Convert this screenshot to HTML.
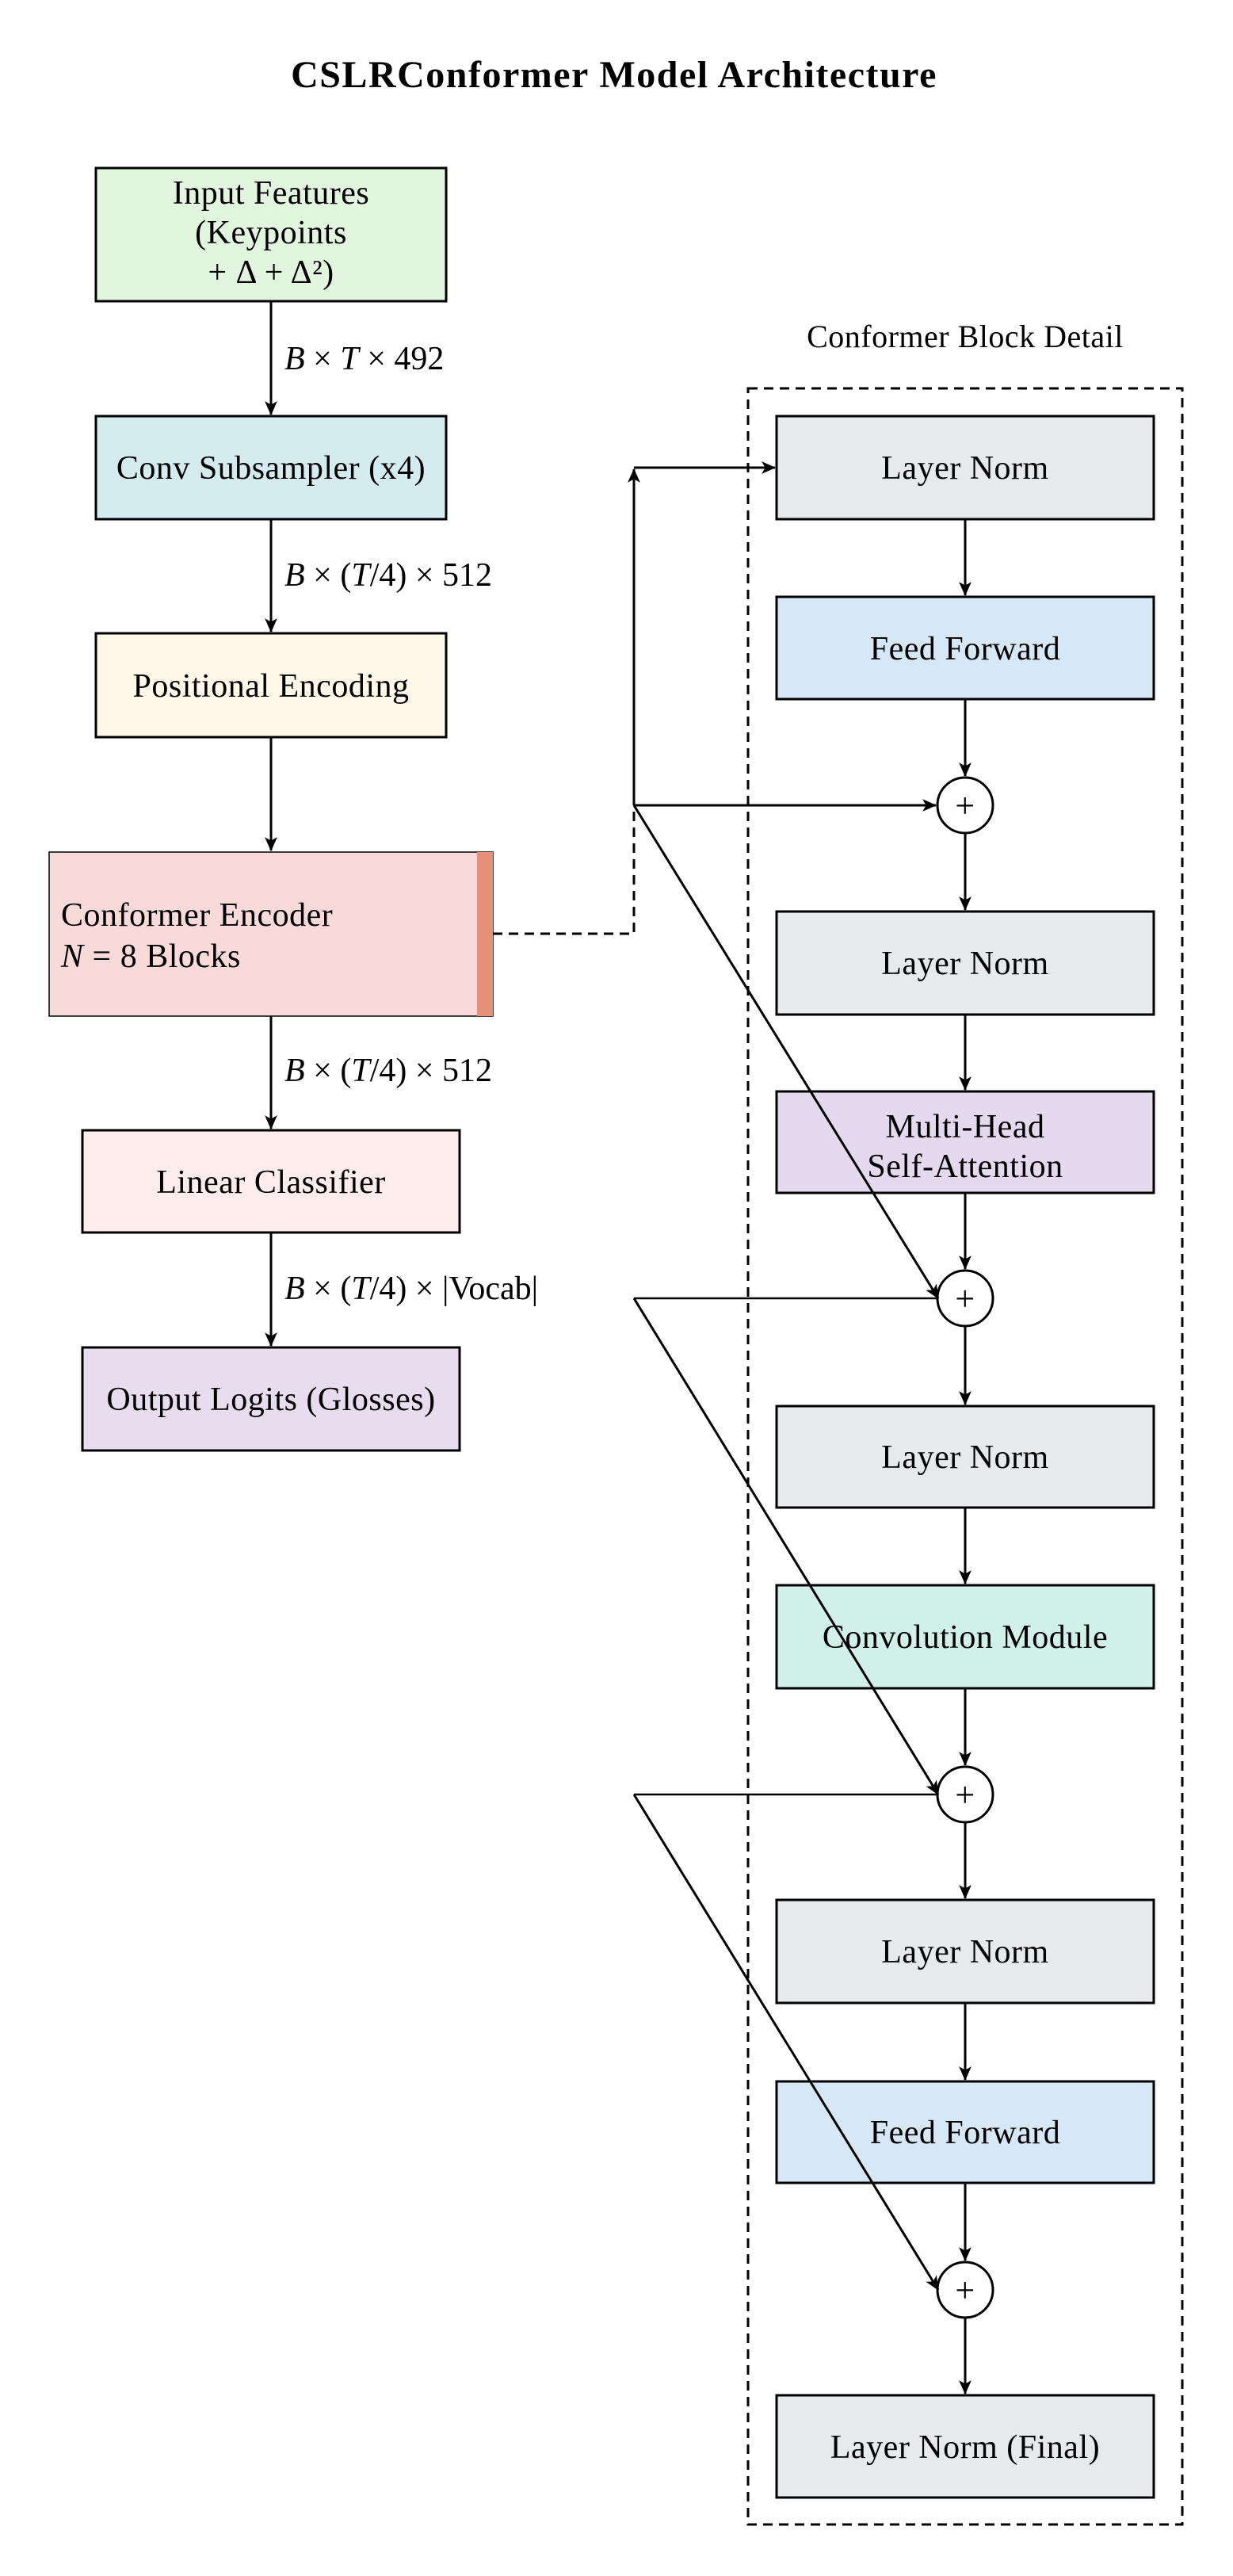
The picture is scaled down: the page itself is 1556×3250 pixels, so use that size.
<!DOCTYPE html>
<html><head><meta charset="utf-8"><style>
html,body{margin:0;padding:0;background:#fff;}
svg{display:block;}
text{font-family:"Liberation Serif",serif;fill:#000;}
</style></head><body>
<svg width="1556" height="3250" viewBox="0 0 1556 3250" xmlns="http://www.w3.org/2000/svg">
<defs>
<marker id="a" viewBox="0 0 16 14" refX="15" refY="7" markerWidth="18" markerHeight="16" markerUnits="userSpaceOnUse" orient="auto">
<path d="M0,0 L16,7 L0,14 L4,7 Z" fill="#000"/>
</marker>
</defs>
<text x="775" y="110" font-size="48" font-weight="bold" text-anchor="middle" letter-spacing="1.5">CSLRConformer Model Architecture</text>

<g stroke="#000" stroke-width="3">
<rect x="121" y="212" width="442" height="168" fill="#e2f5de"/>
<rect x="121" y="525" width="442" height="130" fill="#d4ecf0"/>
<rect x="121" y="799" width="442" height="131" fill="#fdf8e8"/>
<rect x="62" y="1075" width="560" height="207" fill="#f8dad8" stroke-width="1.5"/>
<rect x="602" y="1075" width="20" height="207" fill="#e59078" stroke="none"/>
<rect x="104" y="1426" width="476" height="129" fill="#fdecec"/>
<rect x="104" y="1700" width="476" height="130" fill="#e8dcef"/>
</g>
<g font-size="42" letter-spacing="0.5">
<text text-anchor="middle"><tspan x="342" y="257">Input Features</tspan><tspan x="342" y="307">(Keypoints</tspan><tspan x="342" y="357">+ Δ + Δ²)</tspan></text>
<text x="342" y="604" text-anchor="middle">Conv Subsampler (x4)</text>
<text x="342" y="879" text-anchor="middle">Positional Encoding</text>
<text><tspan x="77" y="1168">Conformer Encoder</tspan><tspan x="77" y="1220"><tspan font-style="italic">N</tspan> = 8 Blocks</tspan></text>
<text x="342" y="1505" text-anchor="middle">Linear Classifier</text>
<text x="342" y="1779" text-anchor="middle">Output Logits (Glosses)</text>
</g>

<g stroke="#000" stroke-width="3" fill="none" marker-end="url(#a)">
<line x1="342" y1="380" x2="342" y2="523"/>
<line x1="342" y1="655" x2="342" y2="797"/>
<line x1="342" y1="930" x2="342" y2="1073"/>
<line x1="342" y1="1282" x2="342" y2="1424"/>
<line x1="342" y1="1555" x2="342" y2="1698"/>
</g>
<g font-size="42">
<text><tspan x="359" y="466"><tspan font-style="italic">B</tspan> × <tspan font-style="italic">T</tspan> × 492</tspan></text>
<text><tspan x="359" y="739"><tspan font-style="italic">B</tspan> × (<tspan font-style="italic">T</tspan>/4) × 512</tspan></text>
<text><tspan x="359" y="1364"><tspan font-style="italic">B</tspan> × (<tspan font-style="italic">T</tspan>/4) × 512</tspan></text>
<text><tspan x="359" y="1639"><tspan font-style="italic">B</tspan> × (<tspan font-style="italic">T</tspan>/4) × |Vocab|</tspan></text>
</g>

<!-- right -->
<text x="1218" y="438" font-size="40" text-anchor="middle" letter-spacing="0.5">Conformer Block Detail</text>
<rect x="944" y="490" width="548" height="2695" fill="none" stroke="#000" stroke-width="3" stroke-dasharray="12,8"/>
<g stroke="#000" stroke-width="3">
<rect x="980" y="525" width="476" height="130" fill="#e8e9eb"/>
<rect x="980" y="753" width="476" height="129" fill="#d6e8f6"/>
<rect x="980" y="1150" width="476" height="130" fill="#e8e9eb"/>
<rect x="980" y="1377" width="476" height="128" fill="#e5d9f0"/>
<rect x="980" y="1774" width="476" height="128" fill="#e8e9eb"/>
<rect x="980" y="2000" width="476" height="130" fill="#d0f0e8"/>
<rect x="980" y="2397" width="476" height="130" fill="#e8e9eb"/>
<rect x="980" y="2626" width="476" height="128" fill="#d6e8f6"/>
<rect x="980" y="3022" width="476" height="129" fill="#e8e9eb"/>
<circle cx="1218" cy="1016" r="35" fill="#fff"/>
<circle cx="1218" cy="1638" r="35" fill="#fff"/>
<circle cx="1218" cy="2264" r="35" fill="#fff"/>
<circle cx="1218" cy="2889" r="35" fill="#fff"/>
</g>
<g font-size="42" text-anchor="middle" letter-spacing="0.5">
<text x="1218" y="604">Layer Norm</text>
<text x="1218" y="832">Feed Forward</text>
<text x="1218" y="1229">Layer Norm</text>
<text x="1218" y="1435">Multi-Head</text>
<text x="1218" y="1485">Self-Attention</text>
<text x="1218" y="1852">Layer Norm</text>
<text x="1218" y="2079">Convolution Module</text>
<text x="1218" y="2476">Layer Norm</text>
<text x="1218" y="2704">Feed Forward</text>
<text x="1218" y="3101">Layer Norm (Final)</text>
<text x="1218" y="1031" font-size="44">+</text>
<text x="1218" y="1653" font-size="44">+</text>
<text x="1218" y="2279" font-size="44">+</text>
<text x="1218" y="2904" font-size="44">+</text>
</g>
<g stroke="#000" stroke-width="3" fill="none" marker-end="url(#a)">
<line x1="1218" y1="655" x2="1218" y2="751"/>
<line x1="1218" y1="882" x2="1218" y2="979"/>
<line x1="1218" y1="1051" x2="1218" y2="1148"/>
<line x1="1218" y1="1280" x2="1218" y2="1375"/>
<line x1="1218" y1="1505" x2="1218" y2="1601"/>
<line x1="1218" y1="1673" x2="1218" y2="1772"/>
<line x1="1218" y1="1902" x2="1218" y2="1998"/>
<line x1="1218" y1="2130" x2="1218" y2="2227"/>
<line x1="1218" y1="2299" x2="1218" y2="2395"/>
<line x1="1218" y1="2527" x2="1218" y2="2624"/>
<line x1="1218" y1="2754" x2="1218" y2="2852"/>
<line x1="1218" y1="2924" x2="1218" y2="3020"/>
<line x1="800" y1="1016" x2="800" y2="592"/>
<line x1="800" y1="590" x2="978" y2="590"/>
<line x1="800" y1="1016" x2="1181" y2="1016"/>
<line x1="800" y1="1016" x2="1184" y2="1638"/>
<line x1="800" y1="1638" x2="1184" y2="2264"/>
<line x1="800" y1="2264" x2="1184" y2="2889"/>
</g>
<g stroke="#000" stroke-width="2.5" fill="none">
<line x1="1183" y1="1638" x2="800" y2="1638"/>
<line x1="1183" y1="2264" x2="800" y2="2264"/>
<polyline points="622,1178 800,1178 800,1016" stroke-dasharray="12,8" stroke-width="3"/>
</g>
</svg>
</body></html>
